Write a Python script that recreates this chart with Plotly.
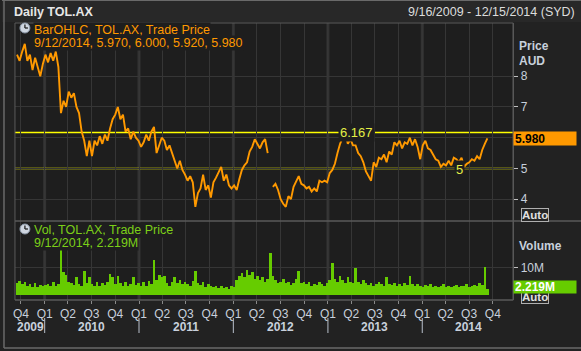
import plotly.graph_objects as go
import pandas as pd

W, H = 581, 351

# ---------------- data ----------------
dates = pd.date_range("2009-09-16", "2014-09-12", freq="10D")

price = [
    8.7, 8.5, 8.8, 9.05, 8.5, 8.7, 8.2, 8.6, 8.3, 8.0,
    8.4, 8.7, 8.45, 8.75, 8.5, 8.8, 8.3, 6.8, 7.2, 7.0,
    7.5, 7.3, 7.45, 7.0, 6.8, 6.2, 5.9, 5.4, 5.9, 5.4,
    5.9, 5.75, 6.05, 5.8, 6.1, 5.9, 6.3, 6.6, 6.75, 7.0,
    6.6, 6.75, 6.2, 6.3, 5.95, 6.2, 6.0, 5.9, 5.7, 5.85,
    6.1, 5.9, 6.2, 6.35, 5.5, 5.75, 6.0, 5.9, 5.6, 5.75,
    5.5, 5.2, 5.0, 5.25, 4.95, 4.8, 4.6, 4.75, 4.55, 3.75,
    4.2, 4.35, 4.8, 4.3, 4.45, 4.05, 4.55, 4.7, 4.85, 5.05,
    4.6, 4.8, 4.45, 4.35, 4.45, 4.3, 4.65, 4.95, 5.1, 5.2,
    5.55, 5.7, 5.95, 5.8, 5.65, 5.85, 5.95, 5.5, None, 4.4,
    4.5, 4.3, 4.0, 3.85, 3.75, 4.1, 4.0, 4.4, 4.6, 4.75,
    4.5, 4.45, 4.35, 4.4, 4.25, 4.35, 4.25, 4.6, 4.55, 4.6,
    4.55, 4.85, 4.95, 5.15, 5.5, 5.8, 6.0, 6.17, 5.8, 5.95,
    5.75, 5.75, 5.5, 5.4, 5.2, 4.9, 4.75, 4.6, 5.2, 5.05,
    5.35, 5.3, 5.45, 5.2, 5.55, 5.45, 5.85, 5.75, 5.9, 5.65,
    5.85, 5.8, 6.0, 5.75, 5.95, 5.7, 5.3, 5.75, 5.9, 5.65,
    5.6, 5.45, 5.3, 5.25, 5.05, 5.15, 5.1, 5.25, 5.1, 5.35,
    5.3, 5.2, 5.35, 5.05, 5.15, 5.2, 5.3, 5.25, 5.4, 5.3,
    5.6, 5.8, 5.98,
]

volume_m = [
    4.5, 5.2, 4.0, 4.8, 3.5, 4.2, 3.0, 4.5, 2.8, 3.8,
    3.2, 3.6, 4.0, 3.2, 5.0, 3.5, 4.2, 16.5, 8.5, 7.5,
    5.0, 4.5, 3.8, 6.8, 4.2, 3.5, 9.0, 4.5, 6.5, 4.0,
    3.5, 5.0, 3.2, 4.5, 3.8, 5.0, 7.8, 6.5, 4.2, 7.0,
    4.5, 3.5, 5.0, 3.5, 4.0, 6.5, 3.8, 4.5, 3.5, 4.8,
    3.5, 5.2, 4.0, 12.8, 5.5, 7.5, 6.5, 7.0, 4.5, 3.5,
    5.0, 6.5, 4.5, 5.5, 4.0, 5.0, 4.2, 3.5, 5.2, 9.0,
    4.5, 3.8, 4.8, 3.0, 4.0, 3.5, 2.8, 3.5, 2.5, 3.2,
    2.6, 3.0, 2.4, 3.5, 3.0, 5.5, 7.0, 8.0, 6.5, 9.3,
    7.5, 8.5, 6.0, 7.0, 5.5, 6.5, 5.0, 6.0, 15.5, 7.0,
    5.5, 4.5, 5.0, 6.0, 4.5, 5.0, 3.8, 4.5, 6.0, 9.0,
    4.5, 5.0, 4.0, 4.8, 3.5, 4.2, 3.8, 5.0, 4.0, 3.5,
    4.5, 5.5, 12.0, 6.0, 5.0, 7.0, 5.5, 4.5, 6.5, 5.0,
    4.5, 10.0, 5.0, 4.0, 5.5, 4.5, 3.8, 4.5, 3.5, 4.0,
    5.0, 4.2, 3.5, 6.5, 4.0, 3.8, 4.5, 3.5, 4.0, 3.2,
    4.5, 3.8, 7.0, 4.0, 3.5, 4.2, 3.5, 3.0, 3.8, 3.2,
    4.0, 3.0, 3.5, 2.8, 3.2, 4.0, 3.0, 3.5, 2.8, 3.2,
    3.8, 3.0, 3.5, 3.2, 4.0, 3.0, 3.5, 3.8, 3.5, 4.5,
    3.8, 10.5, 2.219,
]

quarter_starts = pd.date_range("2009-10-01", "2014-10-01", freq="QS")
quarter_labels = ["Q%d" % d.quarter for d in quarter_starts]
year_starts = ["2010-01-01", "2011-01-01", "2012-01-01", "2013-01-01", "2014-01-01"]
year_labels = ["2009", "2010", "2011", "2012", "2013", "2014"]
year_label_at = ["2009-11-09", "2010-07-02", "2011-07-02", "2012-07-01", "2013-07-02", "2014-06-28"]

price_ticks = [4, 5, 6, 7, 8]
price_tick_text = ["4", "5", "", "7", "8"]   # "6" sits under the last-price box
level_high = 6.167
level_low = 5.0
last_price = 5.980
last_volume = 2.219
legend_price = ["BarOHLC, TOL.AX, Trade Price", "9/12/2014, 5.970, 6.000, 5.920, 5.980"]
legend_vol = ["Vol, TOL.AX, Trade Price", "9/12/2014, 2.219M"]

# ---------------- styling ----------------
FONT = "Liberation Sans"
ORANGE = "#FF9900"
GREEN = "#66CC00"
YELLOW = "#FFFF00"
PLOT_BG = "#1e1e1e"
PAPER_BG = "#222222"
GRID = "#363636"
AXIS_TXT = "#c8d0dc"
BORDER = "#5a5a5a"


def px(x):
    return x / W


def py(y):
    return 1 - y / H


X_L, X_R = 13, 513
P_TOP, P_BOT = 23, 221
V_TOP, V_BOT = 221, 300
x_range = ["2009-09-08", "2014-12-19"]

fig = go.Figure()
fig.add_trace(go.Scatter(
    x=dates, y=price, mode="lines", connectgaps=False,
    line=dict(color=ORANGE, width=1.9), xaxis="x", yaxis="y",
    hoverinfo="skip"))
fig.add_trace(go.Bar(
    x=dates, y=volume_m, marker=dict(color=GREEN, line=dict(width=0)),
    xaxis="x2", yaxis="y2", hoverinfo="skip"))

shapes = []
annotations = []

# title bar
shapes.append(dict(type="rect", xref="paper", yref="paper", x0=0, x1=1,
                   y0=py(22), y1=1, fillcolor="#282828", line=dict(width=0), layer="below"))
# outer frame lines
shapes.append(dict(type="line", xref="paper", yref="paper", x0=px(2), x1=px(2),
                   y0=py(348), y1=py(1), line=dict(color="#6a6a6a", width=1.5)))
shapes.append(dict(type="line", xref="paper", yref="paper", x0=px(2), x1=1,
                   y0=py(348), y1=py(348), line=dict(color="#6a6a6a", width=1.5)))
shapes.append(dict(type="line", xref="paper", yref="paper", x0=0, x1=1,
                   y0=py(0.5), y1=py(0.5), line=dict(color="#6a6a6a", width=1)))

# year separator lines in plot and under the axis
for ys in year_starts:
    for (t, b) in [(P_TOP, P_BOT), (V_TOP, V_BOT)]:
        shapes.append(dict(type="line", xref="x", yref="paper", x0=ys, x1=ys,
                           y0=py(b), y1=py(t), line=dict(color="#333333", width=3), layer="below"))
    shapes.append(dict(type="line", xref="x", yref="paper", x0=ys, x1=ys,
                       y0=py(333), y1=py(318), line=dict(color="#b8c0cc", width=1)))

# borders
shapes.append(dict(type="line", xref="paper", yref="paper", x0=px(X_L), x1=px(X_R),
                   y0=py(P_TOP), y1=py(P_TOP), line=dict(color=BORDER, width=1)))
shapes.append(dict(type="line", xref="paper", yref="paper", x0=px(X_L), x1=1,
                   y0=py(P_BOT), y1=py(P_BOT), line=dict(color=BORDER, width=1.5)))
shapes.append(dict(type="line", xref="paper", yref="paper", x0=px(X_L), x1=px(X_R),
                   y0=py(V_BOT), y1=py(V_BOT), line=dict(color=BORDER, width=1.5)))
shapes.append(dict(type="line", xref="paper", yref="paper", x0=px(X_L), x1=px(X_L),
                   y0=py(V_BOT), y1=py(P_TOP), line=dict(color=BORDER, width=1)))
shapes.append(dict(type="line", xref="paper", yref="paper", x0=px(X_R), x1=px(X_R),
                   y0=py(V_BOT), y1=py(P_TOP), line=dict(color=BORDER, width=1.5)))

# level lines
for lv in (level_high, level_low):
    shapes.append(dict(type="line", xref="paper", yref="y", x0=px(X_L), x1=px(X_R),
                       y0=lv, y1=lv, line=dict(color=YELLOW, width=1.5), layer="below"))

annotations.append(dict(xref="paper", yref="y", x=px(356), y=level_high,
                        text="6.167", showarrow=False, font=dict(family=FONT, size=13, color="#e4f046"),
                        bgcolor=PLOT_BG, borderpad=1))
annotations.append(dict(xref="paper", yref="y", x=px(465), y=level_low,
                        text="5", showarrow=False, font=dict(family=FONT, size=13, color="#e4f046"),
                        bgcolor=PLOT_BG, borderpad=1, yshift=-1))

# clock icons
for cy in (28, 229):
    shapes.append(dict(type="circle", xref="paper", yref="paper", x0=px(18), x1=px(28),
                       y0=py(cy + 5), y1=py(cy - 5), fillcolor="#cfd6e0", line=dict(color="#8a96a6", width=1)))
    shapes.append(dict(type="line", xref="paper", yref="paper", x0=px(23), x1=px(23),
                       y0=py(cy), y1=py(cy - 3.5), line=dict(color="#202020", width=1.3)))
    shapes.append(dict(type="line", xref="paper", yref="paper", x0=px(23), x1=px(26),
                       y0=py(cy), y1=py(cy), line=dict(color="#202020", width=1.3)))

# legends
for i, t in enumerate(legend_price):
    annotations.append(dict(xref="paper", yref="paper", x=px(31), y=py(30 + 13.3 * i),
                            xanchor="left", yanchor="middle", text=t, showarrow=False,
                            font=dict(family=FONT, size=12.5, color=ORANGE), bgcolor=PLOT_BG, borderpad=0))
for i, t in enumerate(legend_vol):
    annotations.append(dict(xref="paper", yref="paper", x=px(31), y=py(230 + 13.3 * i),
                            xanchor="left", yanchor="middle", text=t, showarrow=False,
                            font=dict(family=FONT, size=12.5, color="#7ccf18"), bgcolor=PLOT_BG, borderpad=0))

# title bar text
annotations.append(dict(xref="paper", yref="paper", x=px(10), y=py(12), xanchor="left", yanchor="middle",
                        text="<b>Daily TOL.AX</b>", showarrow=False,
                        font=dict(family=FONT, size=12.5, color="#e6e6e6")))
annotations.append(dict(xref="paper", yref="paper", x=px(577), y=py(12), xanchor="right", yanchor="middle",
                        text="9/16/2009 - 12/15/2014 (SYD)", showarrow=False,
                        font=dict(family=FONT, size=12.5, color="#dcdcdc")))

# right axis titles
annotations.append(dict(xref="paper", yref="paper", x=px(517), y=py(46), xanchor="left", yanchor="middle",
                        text="<b>Price</b>", showarrow=False, font=dict(family=FONT, size=12, color=AXIS_TXT)))
annotations.append(dict(xref="paper", yref="paper", x=px(517), y=py(61), xanchor="left", yanchor="middle",
                        text="<b>AUD</b>", showarrow=False, font=dict(family=FONT, size=12, color=AXIS_TXT)))
annotations.append(dict(xref="paper", yref="paper", x=px(517), y=py(246), xanchor="left", yanchor="middle",
                        text="<b>Volume</b>", showarrow=False, font=dict(family=FONT, size=12, color=AXIS_TXT)))

# Auto buttons (the lower one sits mostly under the volume box, as in the original)
for cy in (214.5, 297):
    annotations.append(dict(xref="paper", yref="paper", x=px(534.5), y=py(cy), xanchor="center",
                            yanchor="middle", text="<b>Auto</b>", showarrow=False,
                            font=dict(family=FONT, size=11.5, color="#e0e0e0"),
                            bordercolor="#b0b0b0", borderwidth=1, borderpad=0, bgcolor="#262626"))

# last value boxes
annotations.append(dict(xref="paper", yref="y", x=px(513), y=last_price, xanchor="left", yanchor="middle",
                        text="<b>%.3f</b>" % last_price, showarrow=False, align="left", width=60, height=11,
                        font=dict(family=FONT, size=12, color="#000000"), bgcolor=ORANGE, borderpad=1))
annotations.append(dict(xref="paper", yref="y2", x=px(513), y=last_volume, xanchor="left", yanchor="middle",
                        yshift=2, text="<b>%.3fM</b>" % last_volume, showarrow=False, align="left",
                        width=60, height=10, font=dict(family=FONT, size=12, color="#ffffff"),
                        bgcolor=GREEN, borderpad=1))

# year labels
for lab, d in zip(year_labels, year_label_at):
    annotations.append(dict(xref="x", yref="paper", x=d, y=py(327), xanchor="center", yanchor="middle",
                            text="<b>%s</b>" % lab, showarrow=False,
                            font=dict(family=FONT, size=12, color=AXIS_TXT)))

fig.update_layout(
    width=W, height=H, margin=dict(l=0, r=0, t=0, b=0),
    paper_bgcolor=PAPER_BG, plot_bgcolor=PLOT_BG, showlegend=False,
    bargap=0, font=dict(family=FONT, color=AXIS_TXT),
    xaxis=dict(domain=[px(X_L), px(X_R)], range=x_range, anchor="y",
               tickvals=quarter_starts, showticklabels=False, ticks="",
               showgrid=True, gridcolor=GRID, gridwidth=1, zeroline=False, showline=False),
    xaxis2=dict(domain=[px(X_L), px(X_R)], range=x_range, anchor="y2", matches="x",
                tickvals=quarter_starts, ticktext=quarter_labels, ticks="outside", ticklen=3,
                tickcolor="#8a8a8a", tickfont=dict(family=FONT, size=12, color=AXIS_TXT),
                showgrid=True, gridcolor=GRID, gridwidth=1, zeroline=False, showline=False),
    yaxis=dict(domain=[py(P_BOT), py(P_TOP)], range=[3.29, 9.73], anchor="x", side="right",
               tickvals=price_ticks, ticktext=price_tick_text, ticks="outside", ticklen=4,
               tickcolor="#c0c0c0", tickfont=dict(family=FONT, size=12, color=AXIS_TXT),
               showgrid=True, gridcolor=GRID, gridwidth=1, zeroline=False, showline=False),
    yaxis2=dict(domain=[py(V_BOT), py(V_TOP)], range=[-1.85, 27.4], anchor="x2", side="right",
                tickvals=[10], ticktext=["10M"], ticks="outside", ticklen=4, tickcolor="#c0c0c0",
                tickfont=dict(family=FONT, size=12, color=AXIS_TXT),
                showgrid=True, gridcolor=GRID, gridwidth=1, zeroline=False, showline=False),
    shapes=shapes, annotations=annotations,
)

fig.write_html("out.html")
